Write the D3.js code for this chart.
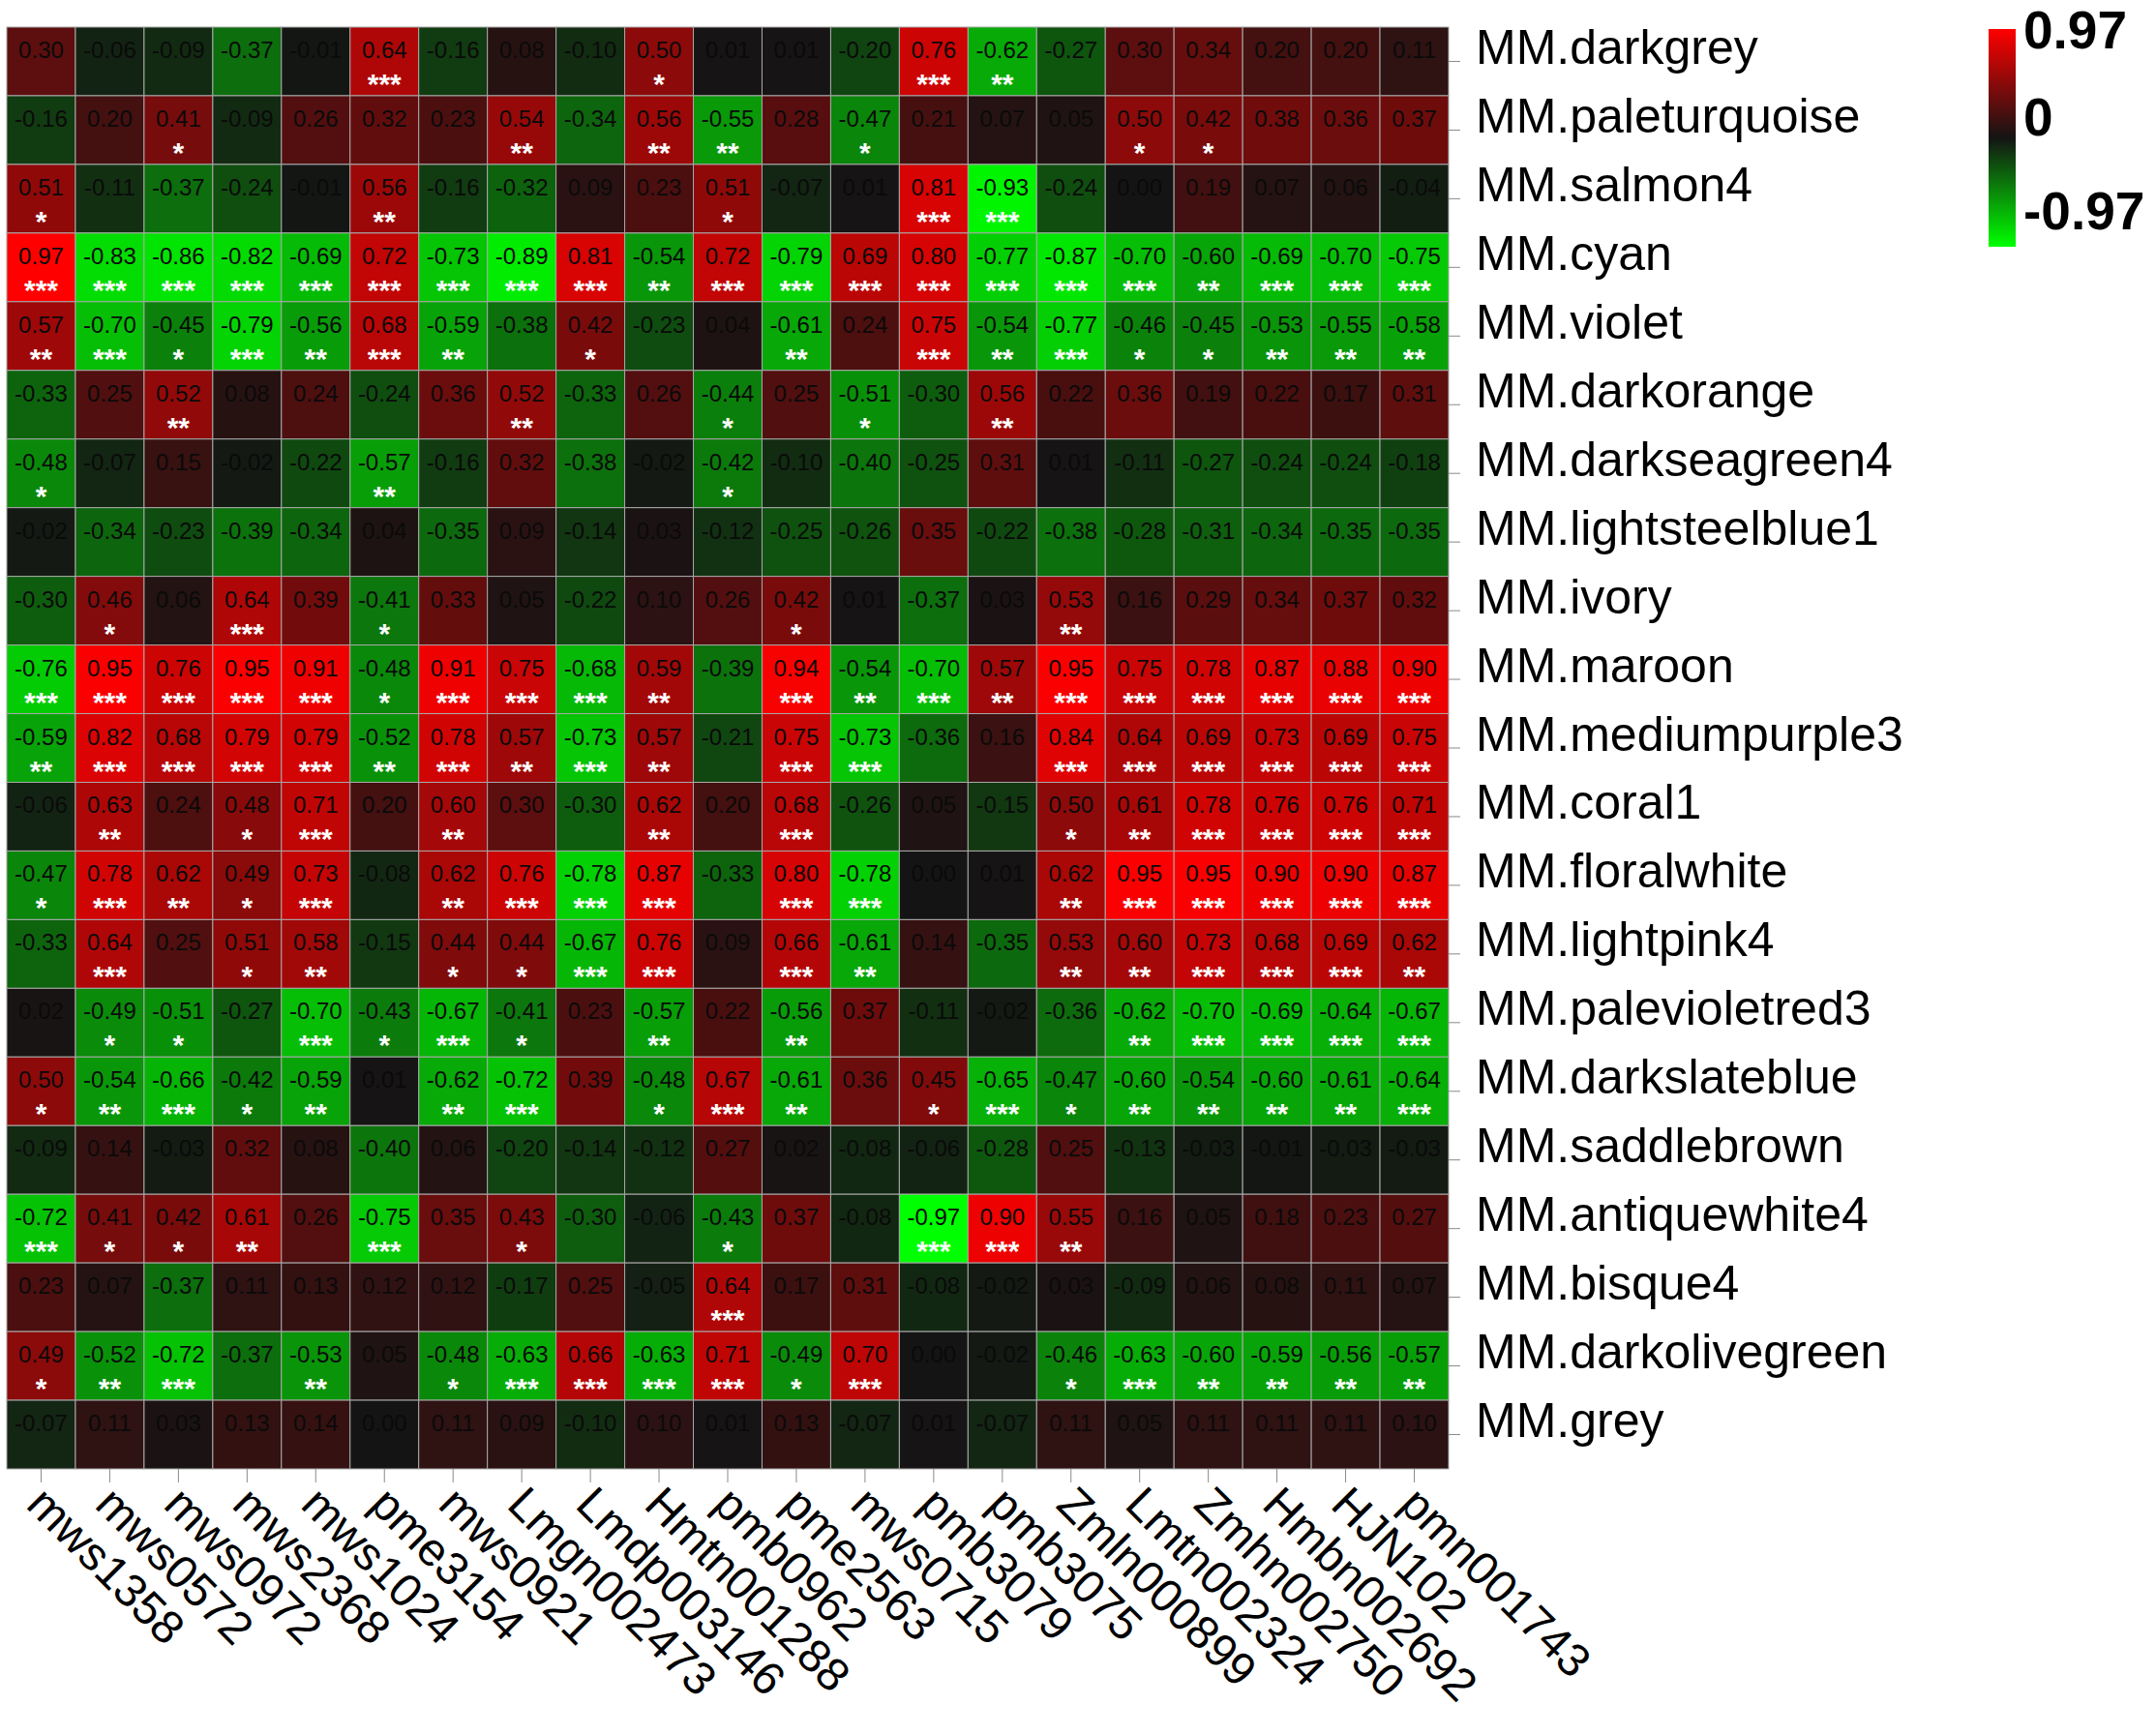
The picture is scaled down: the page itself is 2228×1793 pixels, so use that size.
<!DOCTYPE html>
<html>
<head>
<meta charset="utf-8">
<script src="https://cdn.jsdelivr.net/npm/d3@7"></script>
<style>
body { margin: 0; background: #ffffff; }
svg { display: block; font-family: "Liberation Sans", Arial, sans-serif; }
</style>
</head>
<body>
<script>
// trait columns
var traits = ["mws1358", "mws0572", "mws0972", "mws2368", "mws1024", "pme3154", "mws0921",
	"Lmgn002473", "Lmdp003146", "Hmtn001288", "pmb0962", "pme2563", "mws0715", "pmb3079",
	"pmb3075", "Zmln000899", "Lmtn002324", "Zmhn002750", "Hmbn002692", "HJN102", "pmn001743"];

// module rows
var modules = ["MM.darkgrey", "MM.paleturquoise", "MM.salmon4", "MM.cyan", "MM.violet",
	"MM.darkorange", "MM.darkseagreen4", "MM.lightsteelblue1", "MM.ivory", "MM.maroon",
	"MM.mediumpurple3", "MM.coral1", "MM.floralwhite", "MM.lightpink4", "MM.palevioletred3",
	"MM.darkslateblue", "MM.saddlebrown", "MM.antiquewhite4", "MM.bisque4", "MM.darkolivegreen", "MM.grey"];

// correlation, one row per module
var corr = [
	[0.30, -0.06, -0.09, -0.37, -0.01, 0.64, -0.16, 0.08, -0.10, 0.50, 0.01, 0.01, -0.20, 0.76, -0.62, -0.27, 0.30, 0.34, 0.20, 0.20, 0.11],
	[-0.16, 0.20, 0.41, -0.09, 0.26, 0.32, 0.23, 0.54, -0.34, 0.56, -0.55, 0.28, -0.47, 0.21, 0.07, 0.05, 0.50, 0.42, 0.38, 0.36, 0.37],
	[0.51, -0.11, -0.37, -0.24, -0.01, 0.56, -0.16, -0.32, 0.09, 0.23, 0.51, -0.07, 0.01, 0.81, -0.93, -0.24, -0.00, 0.19, 0.07, 0.06, -0.04],
	[0.97, -0.83, -0.86, -0.82, -0.69, 0.72, -0.73, -0.89, 0.81, -0.54, 0.72, -0.79, 0.69, 0.80, -0.77, -0.87, -0.70, -0.60, -0.69, -0.70, -0.75],
	[0.57, -0.70, -0.45, -0.79, -0.56, 0.68, -0.59, -0.38, 0.42, -0.23, 0.04, -0.61, 0.24, 0.75, -0.54, -0.77, -0.46, -0.45, -0.53, -0.55, -0.58],
	[-0.33, 0.25, 0.52, 0.08, 0.24, -0.24, 0.36, 0.52, -0.33, 0.26, -0.44, 0.25, -0.51, -0.30, 0.56, 0.22, 0.36, 0.19, 0.22, 0.17, 0.31],
	[-0.48, -0.07, 0.15, -0.02, -0.22, -0.57, -0.16, 0.32, -0.38, -0.02, -0.42, -0.10, -0.40, -0.25, 0.31, 0.01, -0.11, -0.27, -0.24, -0.24, -0.18],
	[-0.02, -0.34, -0.23, -0.39, -0.34, 0.04, -0.35, 0.09, -0.14, 0.03, -0.12, -0.25, -0.26, 0.35, -0.22, -0.38, -0.28, -0.31, -0.34, -0.35, -0.35],
	[-0.30, 0.46, 0.06, 0.64, 0.39, -0.41, 0.33, 0.05, -0.22, 0.10, 0.26, 0.42, 0.01, -0.37, 0.03, 0.53, 0.16, 0.29, 0.34, 0.37, 0.32],
	[-0.76, 0.95, 0.76, 0.95, 0.91, -0.48, 0.91, 0.75, -0.68, 0.59, -0.39, 0.94, -0.54, -0.70, 0.57, 0.95, 0.75, 0.78, 0.87, 0.88, 0.90],
	[-0.59, 0.82, 0.68, 0.79, 0.79, -0.52, 0.78, 0.57, -0.73, 0.57, -0.21, 0.75, -0.73, -0.36, 0.16, 0.84, 0.64, 0.69, 0.73, 0.69, 0.75],
	[-0.06, 0.63, 0.24, 0.48, 0.71, 0.20, 0.60, 0.30, -0.30, 0.62, 0.20, 0.68, -0.26, 0.05, -0.15, 0.50, 0.61, 0.78, 0.76, 0.76, 0.71],
	[-0.47, 0.78, 0.62, 0.49, 0.73, -0.08, 0.62, 0.76, -0.78, 0.87, -0.33, 0.80, -0.78, 0.00, 0.01, 0.62, 0.95, 0.95, 0.90, 0.90, 0.87],
	[-0.33, 0.64, 0.25, 0.51, 0.58, -0.15, 0.44, 0.44, -0.67, 0.76, 0.09, 0.66, -0.61, 0.14, -0.35, 0.53, 0.60, 0.73, 0.68, 0.69, 0.62],
	[0.02, -0.49, -0.51, -0.27, -0.70, -0.43, -0.67, -0.41, 0.23, -0.57, 0.22, -0.56, 0.37, -0.11, -0.02, -0.36, -0.62, -0.70, -0.69, -0.64, -0.67],
	[0.50, -0.54, -0.66, -0.42, -0.59, 0.01, -0.62, -0.72, 0.39, -0.48, 0.67, -0.61, 0.36, 0.45, -0.65, -0.47, -0.60, -0.54, -0.60, -0.61, -0.64],
	[-0.09, 0.14, -0.03, 0.32, 0.08, -0.40, 0.06, -0.20, -0.14, -0.12, 0.27, 0.02, -0.08, -0.06, -0.28, 0.25, -0.13, -0.03, -0.01, -0.03, -0.03],
	[-0.72, 0.41, 0.42, 0.61, 0.26, -0.75, 0.35, 0.43, -0.30, -0.06, -0.43, 0.37, -0.08, -0.97, 0.90, 0.55, 0.16, 0.05, 0.18, 0.23, 0.27],
	[0.23, 0.07, -0.37, 0.11, 0.13, 0.12, 0.12, -0.17, 0.25, -0.05, 0.64, 0.17, 0.31, -0.08, -0.02, 0.03, -0.09, 0.06, 0.08, 0.11, 0.07],
	[0.49, -0.52, -0.72, -0.37, -0.53, 0.05, -0.48, -0.63, 0.66, -0.63, 0.71, -0.49, 0.70, 0.00, -0.02, -0.46, -0.63, -0.60, -0.59, -0.56, -0.57],
	[-0.07, 0.11, 0.03, 0.13, 0.14, 0.00, 0.11, 0.09, -0.10, 0.10, 0.01, 0.13, -0.07, 0.01, -0.07, 0.11, 0.05, 0.11, 0.11, 0.11, 0.10]
];

// number of significance stars shown under each value
var stars = [
	[0,0,0,0,0,3,0,0,0,1,0,0,0,3,2,0,0,0,0,0,0],
	[0,0,1,0,0,0,0,2,0,2,2,0,1,0,0,0,1,1,0,0,0],
	[1,0,0,0,0,2,0,0,0,0,1,0,0,3,3,0,0,0,0,0,0],
	[3,3,3,3,3,3,3,3,3,2,3,3,3,3,3,3,3,2,3,3,3],
	[2,3,1,3,2,3,2,0,1,0,0,2,0,3,2,3,1,1,2,2,2],
	[0,0,2,0,0,0,0,2,0,0,1,0,1,0,2,0,0,0,0,0,0],
	[1,0,0,0,0,2,0,0,0,0,1,0,0,0,0,0,0,0,0,0,0],
	[0,0,0,0,0,0,0,0,0,0,0,0,0,0,0,0,0,0,0,0,0],
	[0,1,0,3,0,1,0,0,0,0,0,1,0,0,0,2,0,0,0,0,0],
	[3,3,3,3,3,1,3,3,3,2,0,3,2,3,2,3,3,3,3,3,3],
	[2,3,3,3,3,2,3,2,3,2,0,3,3,0,0,3,3,3,3,3,3],
	[0,2,0,1,3,0,2,0,0,2,0,3,0,0,0,1,2,3,3,3,3],
	[1,3,2,1,3,0,2,3,3,3,0,3,3,0,0,2,3,3,3,3,3],
	[0,3,0,1,2,0,1,1,3,3,0,3,2,0,0,2,2,3,3,3,2],
	[0,1,1,0,3,1,3,1,0,2,0,2,0,0,0,0,2,3,3,3,3],
	[1,2,3,1,2,0,2,3,0,1,3,2,0,1,3,1,2,2,2,2,3],
	[0,0,0,0,0,0,0,0,0,0,0,0,0,0,0,0,0,0,0,0,0],
	[3,1,1,2,0,3,0,1,0,0,1,0,0,3,3,2,0,0,0,0,0],
	[0,0,0,0,0,0,0,0,0,0,3,0,0,0,0,0,0,0,0,0,0],
	[1,2,3,0,2,0,1,3,3,3,3,1,3,0,0,1,3,2,2,2,2],
	[0,0,0,0,0,0,0,0,0,0,0,0,0,0,0,0,0,0,0,0,0]
];

var legendTicks = [0.97, 0, -0.97];

var W = 2228, H = 1793;
var gridLeft = 7, gridTop = 28, side = 1490;

var svg = d3.select("body")
	.append("svg")
	.attr("width", W)
	.attr("height", H);

svg.append("rect").attr("width", W).attr("height", H).attr("fill", "#ffffff");

var x = d3.scaleBand().domain(traits).range([gridLeft, gridLeft + side]);
var y = d3.scaleBand().domain(modules).range([gridTop, gridTop + side]);
var color = d3.scaleLinear()
	.domain([-0.97, 0, 0.97])
	.range(["#00ff00", "#141414", "#ff0000"])
	.clamp(true);

var cells = [];
for (var i = 0; i < modules.length; i++) {
	for (var j = 0; j < traits.length; j++) {
		cells.push({ m: modules[i], t: traits[j], v: corr[i][j], s: stars[i][j] });
	}
}

var g = svg.append("g");

g.selectAll("rect.cell")
	.data(cells)
	.enter()
	.append("rect")
	.attr("class", "cell")
	.attr("x", function(d) { return x(d.t); })
	.attr("y", function(d) { return y(d.m); })
	.attr("width", x.bandwidth())
	.attr("height", y.bandwidth())
	.attr("fill", function(d) { return color(d.v); })
	.attr("stroke", "#a8a8a8")
	.attr("stroke-width", 1);

// value text
g.selectAll("text.val")
	.data(cells)
	.enter()
	.append("text")
	.attr("class", "val")
	.attr("x", function(d) { return x(d.t) + x.bandwidth() / 2; })
	.attr("y", function(d) { return y(d.m) + 32; })
	.attr("text-anchor", "middle")
	.attr("font-size", 24)
	.attr("fill", "#0a0a0a")
	.text(function(d) { return d.v.toFixed(2); });

// stars
g.selectAll("text.star")
	.data(cells.filter(function(d) { return d.s > 0; }))
	.enter()
	.append("text")
	.attr("class", "star")
	.attr("x", function(d) { return x(d.t) + x.bandwidth() / 2; })
	.attr("y", function(d) { return y(d.m) + 69; })
	.attr("text-anchor", "middle")
	.attr("font-size", 30)
	.attr("font-weight", "bold")
	.attr("fill", "#ffffff")
	.text(function(d) { return "***".slice(0, d.s); });

// right side module labels
var yAxis = svg.append("g")
	.attr("transform", "translate(" + (gridLeft + side) + ",0)")
	.call(d3.axisRight(y).tickSize(12).tickPadding(16));
yAxis.select(".domain").remove();
yAxis.selectAll(".tick line").attr("stroke", "#8a8a8a");
yAxis.selectAll(".tick text")
	.attr("font-size", 50)
	.attr("font-family", "Liberation Sans, Arial, sans-serif")
	.attr("fill", "#000")
	.attr("dy", "0.05em");

// bottom trait labels, rotated
var xAxis = svg.append("g")
	.attr("transform", "translate(0," + (gridTop + side) + ")")
	.call(d3.axisBottom(x).tickSize(14).tickFormat(""));
xAxis.select(".domain").remove();
xAxis.selectAll(".tick line").attr("stroke", "#8a8a8a");

svg.append("g")
	.selectAll("text")
	.data(traits)
	.enter()
	.append("text")
	.attr("transform", function(d) {
		return "translate(" + (x(d) + x.bandwidth() / 2 - 17) + "," + (gridTop + side + 39) + ") rotate(45)";
	})
	.attr("font-size", 48)
	.attr("fill", "#000")
	.text(function(d) { return d; });

// colour key
var defs = svg.append("defs");
var grad = defs.append("linearGradient")
	.attr("id", "key")
	.attr("x1", 0).attr("y1", 0)
	.attr("x2", 0).attr("y2", 1);
grad.selectAll("stop")
	.data([0.97, 0, -0.97])
	.enter()
	.append("stop")
	.attr("offset", function(d, k) { return (k * 50) + "%"; })
	.attr("stop-color", function(d) { return color(d); });

var keyScale = d3.scaleLinear().domain([0.97, -0.97]).range([30, 255]);

svg.append("rect")
	.attr("x", 2055)
	.attr("y", keyScale(0.97))
	.attr("width", 28)
	.attr("height", keyScale(-0.97) - keyScale(0.97))
	.attr("fill", "url(#key)");

svg.append("g")
	.selectAll("text")
	.data(legendTicks)
	.enter()
	.append("text")
	.attr("x", 2091)
	.attr("y", function(d, k) { return [50, 140, 237][k]; })
	.attr("font-size", 55)
	.attr("font-weight", "bold")
	.attr("fill", "#000")
	.text(function(d) { return d === 0 ? "0" : d.toFixed(2); });
</script>
</body>
</html>
